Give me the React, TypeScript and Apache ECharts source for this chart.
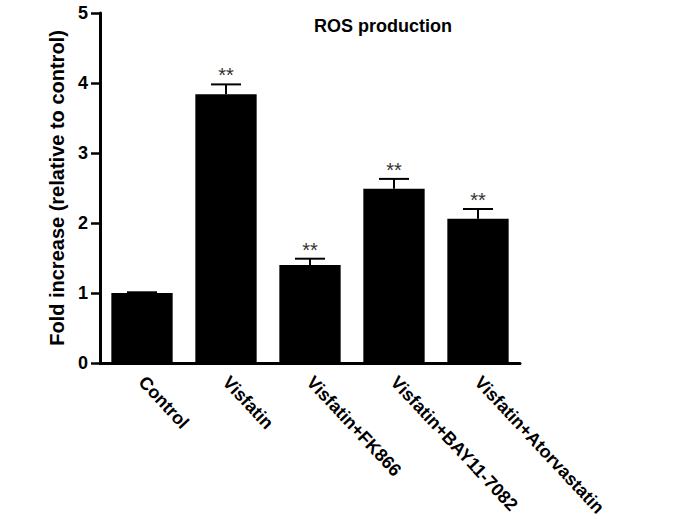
import React, { useEffect, useRef } from "react";
import * as echarts from "echarts";

const categories = [
  "Control",
  "Visfatin",
  "Visfatin+FK866",
  "Visfatin+BAY11-7082",
  "Visfatin+Atorvastatin",
];
const means = [1.0, 3.84, 1.4, 2.49, 2.06];
const errors = [0.01, 0.14, 0.09, 0.14, 0.14];
const marks = ["", "**", "**", "**", "**"];
const yTicks = [0, 1, 2, 3, 4, 5];

export default function App() {
  const ref = useRef<HTMLDivElement>(null);
  useEffect(() => {
    document.body.style.margin = "0";
    const chart = echarts.init(ref.current!, null, { renderer: "svg" });
    const font = "Liberation Sans, Arial, sans-serif";
    chart.setOption({
      animation: false,
      backgroundColor: "#ffffff",
      title: {
        text: "ROS production",
        left: 309,
        top: 12,
        textStyle: { fontFamily: font, fontWeight: "bold", fontSize: 18, color: "#000" },
      },
      grid: { left: 100, right: 168, top: 13, bottom: 162 },
      xAxis: {
        type: "category",
        data: categories,
        axisLine: { lineStyle: { color: "#000", width: 3 } },
        axisTick: { alignWithLabel: true, length: 9, lineStyle: { color: "#000", width: 2.5 } },
        axisLabel: {
          rotate: -47,
          margin: 16,
          interval: 0,
          color: "#000",
          fontFamily: font,
          fontWeight: "bold",
          fontSize: 18,
        },
      },
      yAxis: {
        type: "value",
        min: yTicks[0],
        max: yTicks[yTicks.length - 1],
        interval: 1,
        name: "Fold increase (relative to control)",
        nameLocation: "middle",
        nameGap: 31,
        nameTextStyle: { fontFamily: font, fontWeight: "bold", fontSize: 20, color: "#000" },
        axisLine: { show: true, lineStyle: { color: "#000", width: 3 } },
        axisTick: { show: true, length: 9, lineStyle: { color: "#000", width: 2.5 } },
        splitLine: { show: false },
        axisLabel: {
          margin: 12,
          color: "#000",
          fontFamily: font,
          fontWeight: "bold",
          fontSize: 18,
        },
      },
      series: [
        {
          type: "bar",
          data: means,
          barCategoryGap: "27%",
          itemStyle: { color: "#000" },
        },
        {
          type: "custom",
          data: means.map((m, i) => [i, m, errors[i]]),
          z: 10,
          renderItem: (params: any, api: any) => {
            const i = api.value(0);
            const m = api.value(1);
            const e = api.value(2);
            const top = api.coord([i, m]);
            const up = api.coord([i, m + e]);
            const half = 15;
            const children: any[] = [
              {
                type: "line",
                shape: { x1: top[0], y1: top[1], x2: up[0], y2: up[1] },
                style: { stroke: "#000", lineWidth: 2 },
              },
              {
                type: "line",
                shape: { x1: up[0] - half, y1: up[1], x2: up[0] + half, y2: up[1] },
                style: { stroke: "#000", lineWidth: 2 },
              },
            ];
            if (marks[i]) {
              children.push({
                type: "text",
                style: {
                  text: marks[i],
                  x: up[0],
                  y: up[1] + 1,
                  align: "center",
                  verticalAlign: "bottom",
                  fill: "#333",
                  font: `20px ${font}`,
                },
              });
            }
            return { type: "group", children };
          },
        },
      ],
    });
    return () => chart.dispose();
  }, []);
  return <div ref={ref} style={{ width: 688, height: 525 }} />;
}
